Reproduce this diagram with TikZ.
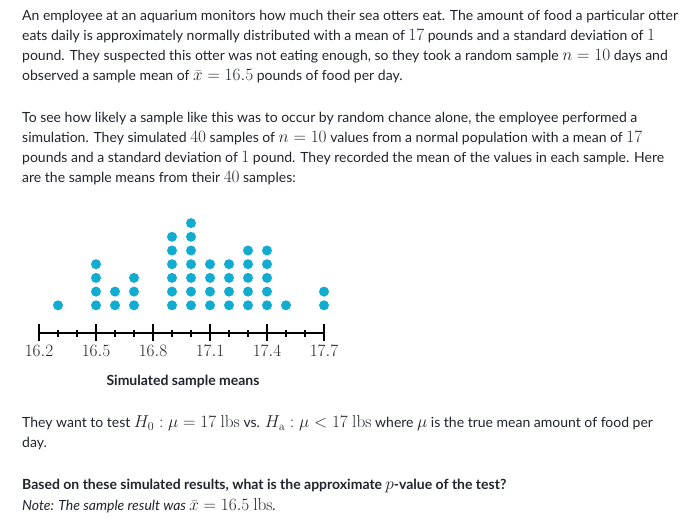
\documentclass[tikz,border=0pt]{standalone}
\usepackage[no-math]{fontspec}
\setmainfont{Lato}
\definecolor{txt}{RGB}{33,36,44}
\definecolor{dotc}{RGB}{17,172,208}
\newcommand\km[1]{{\fontsize{17pt}{20pt}\selectfont$#1$}}
\begin{document}
\begin{tikzpicture}[x=1pt,y=-1pt,
  line/.style={anchor=base west,inner sep=0pt,text=txt,font=\fontsize{14pt}{20pt}\selectfont},
  ticklab/.style={anchor=base,inner sep=0pt,text=txt,font=\fontsize{16pt}{18pt}\selectfont},
  major/.style={line width=1.6pt,draw=black},
  minor/.style={line width=1.2pt,draw=black},
  dot/.style={fill=dotc}]
\useasboundingbox (0,0) rectangle (700,524);
% paragraph 1
\node[line] (l1) at (22,20.7) {An employee at an aquarium monitors how much their sea otters eat. The amount of food a particular otter};
\node[line] (l2) at (22,40.7) {eats daily is approximately normally distributed with a mean of \km{17} pounds and a standard deviation of \km{1}};
\node[line] (l3) at (22,60.7) {pound. They suspected this otter was not eating enough, so they took a random sample \km{n=10} days and};
\node[line] (l4) at (22,80.7) {observed a sample mean of \km{\bar{x}=16.5} pounds of food per day.};
% paragraph 2
\node[line] (l5) at (22,122) {To see how likely a sample like this was to occur by random chance alone, the employee performed a};
\node[line] (l6) at (22,142) {simulation. They simulated \km{40} samples of \km{n=10} values from a normal population with a mean of \km{17}};
\node[line] (l7) at (22,162) {pounds and a standard deviation of \km{1} pound. They recorded the mean of the values in each sample. Here};
\node[line] (l8) at (22,182) {are the sample means from their \km{40} samples:};
% dots
\foreach \v/\n in {16.3/1,16.5/4,16.6/2,16.7/3,16.9/6,17.0/7,17.1/4,17.2/4,17.3/5,17.4/5,17.5/1,17.7/2}{
  \foreach \k in {1,...,\n}{
    \fill[dot] ({39+(\v-16.2)*190},{305.3-13.7*(\k-1)}) circle (5);
  }
}
% axis
\coordinate (a0) at (39,333);
\coordinate (a1) at (324,333);
\draw[major] (a0) -- (a1);
\foreach \i in {0,...,15}{
  \pgfmathtruncatemacro\r{mod(\i,3)}
  \ifnum\r=0
    \draw[major] ({39+19*\i},324) -- ({39+19*\i},341);
  \else
    \draw[minor] ({39+19*\i},329.5) -- ({39+19*\i},336.5);
  \fi
}
\foreach \lab [count=\j from 0] in {16.2,16.5,16.8,17.1,17.4,17.7}{
  \node[ticklab] (t\j) at ({39+57*\j},356.7) {$\lab$};
}
\node[anchor=base,inner sep=0pt,text=txt,font=\fontsize{14pt}{16pt}\selectfont\bfseries] (xl) at (183,385) {Simulated sample means};
% paragraph 3
\node[line] (l9) at (22,427.7) {They want to test \km{H_0:\mu=17\ \mathrm{lbs}} vs. \km{H_{\mathrm{a}}:\mu<17\ \mathrm{lbs}} where \km{\mu} is the true mean amount of food per};
\node[line] (l10) at (22,447.7) {day.};
\node[line,font=\fontsize{14pt}{20pt}\selectfont\bfseries] (l11) at (22,489.3) {Based on these simulated results, what is the approximate \km{p}-value of the test?};
\node[line,font=\fontsize{14pt}{20pt}\selectfont\itshape] (l12) at (22,510) {Note: The sample result was\ \km{\bar{x}=16.5\ \mathrm{lbs}}.};
\end{tikzpicture}
\end{document}
